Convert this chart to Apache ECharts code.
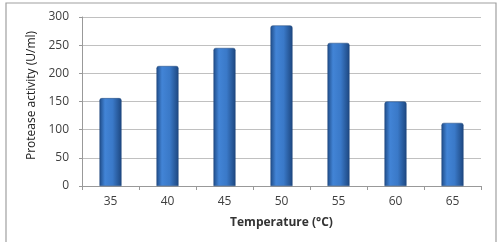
<!DOCTYPE html>
<html>
<head>
<meta charset="utf-8">
<script src="https://cdn.jsdelivr.net/npm/echarts@6/dist/echarts.min.js"></script>
<style>
  html, body { margin: 0; padding: 0; background: #fff; }
  #chart { width: 503px; height: 242px; }
</style>
</head>
<body>
<div id="chart"></div>
<script>
var temperatures = ['35', '40', '45', '50', '55', '60', '65'];
var activity = [156, 213, 245, 285, 254, 150, 112];
var yTicks = { min: 0, max: 300, interval: 50 };

var chart = echarts.init(document.getElementById('chart'));

// bar fill: dark edges, lighter centre
var barFill = new echarts.graphic.LinearGradient(0, 0, 1, 0, [
  { offset: 0, color: '#1f4c88' },
  { offset: 0.25, color: '#4284d6' },
  { offset: 0.6, color: '#3a79c8' },
  { offset: 1, color: '#1d4780' }
]);

chart.setOption({
  animation: false,
  graphic: [{
    type: 'rect',
    shape: { x: 6, y: 3, width: 490, height: 245 },
    style: { fill: 'none', stroke: '#a0a0a0', lineWidth: 1.2 },
    silent: true
  }],
  grid: { left: 82, right: 22, top: 17, bottom: 56 },
  xAxis: {
    type: 'category',
    data: temperatures,
    name: 'Temperature (°C)',
    nameLocation: 'middle',
    nameGap: 31,
    nameTextStyle: { fontFamily: 'Open Sans', fontSize: 12, fontWeight: 'bold', color: '#333' },
    axisLine: { lineStyle: { color: '#999' } },
    axisTick: { show: true, length: 4, lineStyle: { color: '#999' } },
    axisLabel: { fontFamily: 'Open Sans', fontSize: 12, color: '#404040', margin: 10 }
  },
  yAxis: {
    type: 'value',
    min: yTicks.min,
    max: yTicks.max,
    interval: yTicks.interval,
    name: 'Protease activity (U/ml)',
    nameLocation: 'middle',
    nameGap: 38,
    nameTextStyle: { fontFamily: 'Open Sans', fontSize: 12, color: '#222', padding: [0, 0, 0, 12] },
    axisLine: { show: true, lineStyle: { color: '#999' } },
    axisTick: { show: true, length: 3, lineStyle: { color: '#999' } },
    axisLabel: { fontFamily: 'Open Sans', fontSize: 12, color: '#404040', margin: 13 },
    splitLine: { lineStyle: { color: '#c0c0c0' } }
  },
  series: [{
    type: 'bar',
    data: activity,
    barWidth: 22,
    itemStyle: {
      color: barFill,
      borderColor: '#1c4478',
      borderWidth: 0.5,
      borderRadius: [2, 2, 0, 0]
    }
  }]
});
</script>
</body>
</html>
